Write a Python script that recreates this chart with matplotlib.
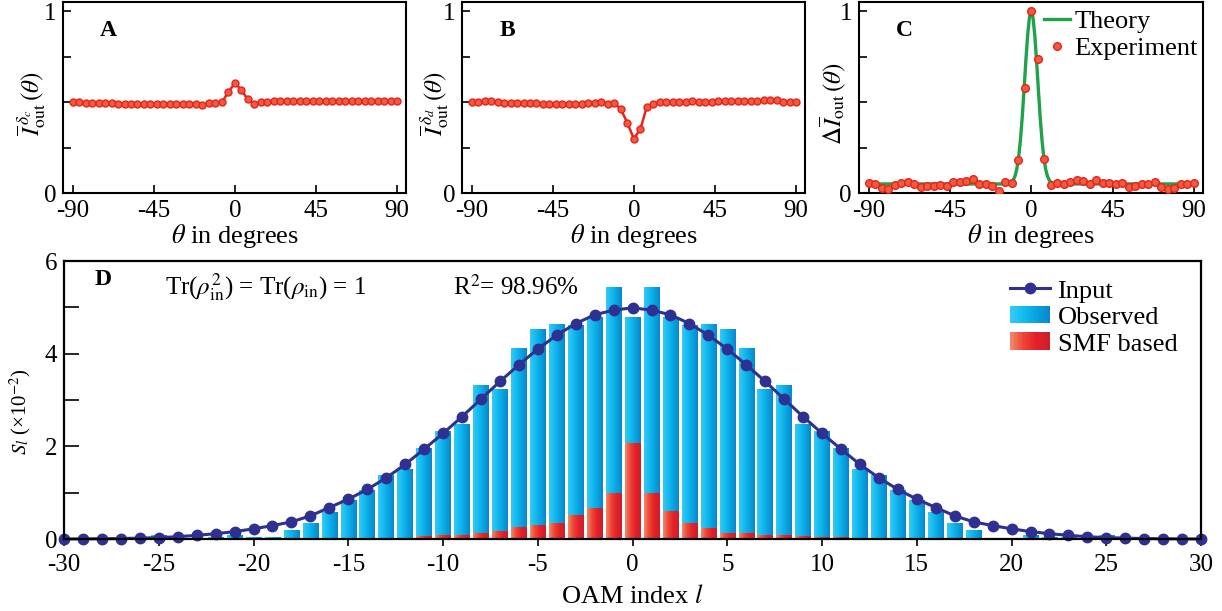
import numpy as np
import matplotlib
matplotlib.use("Agg")
import matplotlib.pyplot as plt
from matplotlib.colors import LinearSegmentedColormap
from matplotlib.patches import Rectangle
from matplotlib.lines import Line2D
from matplotlib.legend_handler import HandlerBase

plt.rcParams['font.family'] = ['Liberation Serif', 'DejaVu Serif']
plt.rcParams['mathtext.fontset'] = 'stix'
plt.rcParams['axes.unicode_minus'] = False

# --- data ---
theta = np.arange(-90, 90.1, 3.6)   # 51 angles

I_dc = [0.502, 0.500, 0.495, 0.493, 0.493, 0.495, 0.493, 0.491, 0.489, 0.489,
        0.491, 0.491, 0.489, 0.491, 0.491, 0.491, 0.491, 0.491, 0.489, 0.489,
        0.485, 0.493, 0.496, 0.500, 0.553, 0.606, 0.566, 0.515, 0.489, 0.500,
        0.502, 0.504, 0.504, 0.505, 0.505, 0.505, 0.505, 0.504, 0.504, 0.505,
        0.505, 0.505, 0.505, 0.505, 0.507, 0.505, 0.504, 0.504, 0.504, 0.504, 0.504]

I_dd = [0.501, 0.501, 0.505, 0.505, 0.501, 0.497, 0.497, 0.497, 0.497, 0.495,
        0.495, 0.492, 0.492, 0.492, 0.490, 0.488, 0.490, 0.492, 0.495, 0.495,
        0.501, 0.488, 0.495, 0.461, 0.385, 0.299, 0.350, 0.473, 0.492, 0.499,
        0.503, 0.503, 0.503, 0.501, 0.506, 0.503, 0.503, 0.503, 0.505, 0.505,
        0.506, 0.506, 0.506, 0.506, 0.506, 0.510, 0.514, 0.510, 0.503, 0.501, 0.501]

dI_exp = [0.055, 0.048, 0.030, 0.024, 0.046, 0.055, 0.059, 0.051, 0.033, 0.040,
          0.040, 0.044, 0.040, 0.062, 0.060, 0.064, 0.075, 0.051, 0.048, 0.040,
          0.011, 0.060, 0.057, 0.180, 0.580, 1.000, 0.734, 0.187, 0.046, 0.055,
          0.051, 0.060, 0.070, 0.066, 0.051, 0.070, 0.055, 0.053, 0.048, 0.055,
          0.033, 0.040, 0.048, 0.051, 0.060, 0.033, 0.022, 0.028, 0.048, 0.048, 0.055]

theta_th = [-90, -14, -12, -11, -10, -9, -8, -7, -6, -5, -4, -3, -2, -1, 0,
            1, 2, 3, 4, 5, 6, 7, 8, 9, 10, 11, 12, 14, 90]
dI_th = [0.050, 0.050, 0.054, 0.059, 0.070, 0.092, 0.130, 0.193, 0.287, 0.412, 0.562,
         0.722, 0.864, 0.964, 1.000, 0.964, 0.864, 0.722, 0.562, 0.412, 0.287,
         0.193, 0.130, 0.092, 0.070, 0.059, 0.054, 0.050, 0.050]

oam = np.arange(-30, 31)
s_input = [0.001, 0.003, 0.006, 0.01, 0.02, 0.03, 0.05, 0.08, 0.115, 0.16,
           0.22, 0.29, 0.37, 0.50, 0.68, 0.86, 1.07, 1.32, 1.61, 1.94,
           2.28, 2.64, 3.02, 3.40, 3.76, 4.10, 4.40, 4.65, 4.84, 4.94,
           4.99,
           4.94, 4.84, 4.65, 4.40, 4.10, 3.76, 3.40, 3.02, 2.64, 2.28,
           1.94, 1.61, 1.32, 1.07, 0.86, 0.68, 0.50, 0.37, 0.29, 0.22,
           0.16, 0.115, 0.08, 0.05, 0.03, 0.02, 0.01, 0.006, 0.003, 0.001]
s_observed = [0.0, 0.0, 0.005, 0.005, 0.01, 0.07, 0.02, 0.02, 0.035, 0.07,
              0.03, 0.03, 0.19, 0.345, 0.58, 0.84, 1.04, 1.38, 1.51, 1.96,
              2.31, 2.48, 3.32, 3.22, 4.12, 4.53, 4.62, 4.60, 4.77, 5.42,
              4.77,
              5.42, 4.77, 4.60, 4.62, 4.53, 4.12, 3.22, 3.32, 2.48, 2.31,
              1.96, 1.51, 1.38, 1.04, 0.84, 0.58, 0.345, 0.19, 0.01, 0.01,
              0.07, 0.035, 0.035, 0.02, 0.07, 0.01, 0.005, 0.005, 0.0, 0.0]
s_smf = [0.0, 0.0, 0.0, 0.0, 0.0, 0.0, 0.0, 0.0, 0.003, 0.003,
         0.005, 0.005, 0.008, 0.008, 0.01, 0.01, 0.012, 0.015, 0.02, 0.045,
         0.07, 0.086, 0.115, 0.16, 0.245, 0.30, 0.345, 0.50, 0.65, 0.99,
         2.06,
         0.99, 0.59, 0.33, 0.22, 0.115, 0.115, 0.086, 0.065, 0.045, 0.03,
         0.03, 0.02, 0.015, 0.01, 0.008, 0.005, 0.005, 0.003, 0.0, 0.0,
         0.0, 0.0, 0.0, 0.0, 0.0, 0.0, 0.0, 0.0, 0.0, 0.0]

RED = '#e5231f'
RED_FACE = '#f25a3c'
GREEN = '#1fa24a'
NAVY = '#2e3192'
blue_cmap = LinearSegmentedColormap.from_list('obs', ['#34cbf5', '#14bbef', '#08a3e0', '#0887cc'])
red_cmap = LinearSegmentedColormap.from_list('smf', ['#f2886a', '#ec4434', '#e3202a', '#cc1f2b'])

FS = 18

fig = plt.figure(figsize=(12.22, 6.11), dpi=100)
axA = fig.add_axes([0.0516, 0.6841, 0.2807, 0.3126])
axB = fig.add_axes([0.3781, 0.6841, 0.2807, 0.3126])
axC = fig.add_axes([0.7029, 0.6841, 0.2815, 0.3126])
axD = fig.add_axes([0.0524, 0.1178, 0.9305, 0.4550])


def style_small(ax, letter, ylabel, label_x):
    ax.set_xlim(-95.3, 95.0)
    ax.set_ylim(0, 1.05)
    ax.set_xticks([-90, -45, 0, 45, 90])
    ax.set_yticks([0, 0.25, 0.5, 0.75, 1])
    ax.set_yticklabels(['0', '', '', '', '1'])
    ax.tick_params(direction='in', length=6, width=1.2, labelsize=FS, pad=5)
    for sp in ax.spines.values():
        sp.set_linewidth(1.5)
    ax.set_xlabel(r'$\theta$ in degrees', fontsize=FS + 1, labelpad=0)
    ax.set_ylabel(ylabel, fontsize=18)
    ax.yaxis.set_label_coords(label_x, 0.47)
    ax.text(0.132, 0.853, letter, transform=ax.transAxes, fontsize=17,
            fontweight='bold', ha='center', va='center')


# Panel A
axA.plot(theta, I_dc, '-o', color=RED, lw=1.8, ms=5, mfc=RED_FACE, mec=RED, mew=1)
style_small(axA, 'A', r'$\overline{I}_{\rm out}^{\,\delta_c}\,(\theta)$', -0.045)

# Panel B
axB.plot(theta, I_dd, '-o', color=RED, lw=1.8, ms=5, mfc=RED_FACE, mec=RED, mew=1)
style_small(axB, 'B', r'$\overline{I}_{\rm out}^{\,\delta_d}\,(\theta)$', -0.033)

# Panel C
axC.plot(theta_th, dI_th, '-', color=GREEN, lw=2.4, label='Theory', zorder=2)
axC.plot(theta, dI_exp, 'o', ms=5.5, mfc=RED_FACE, mec=RED, mew=1,
         label='Experiment', zorder=3)
style_small(axC, 'C', r'$\Delta\overline{I}_{\rm out}\,(\theta)$', -0.033)
axC.legend(loc='upper left', bbox_to_anchor=(0.53, 0.975), frameon=False,
           fontsize=FS + 1, handlelength=1.0, handletextpad=0.15, labelspacing=0.15,
           borderpad=0.1, borderaxespad=0)


# Panel D: gradient filled bars
def gradient_bars(ax, x, h, cmap, z):
    bars = ax.bar(x, h, width=0.82, color=cmap(0.6), edgecolor='none', zorder=z)
    grad = np.linspace(0, 1, 64).reshape(1, -1)
    for p in bars:
        if p.get_height() <= 0:
            continue
        x0 = p.get_x()
        ax.imshow(grad, cmap=cmap, extent=[x0, x0 + p.get_width(), 0, p.get_height()],
                  aspect='auto', interpolation='bilinear', zorder=z)
    return bars


gradient_bars(axD, oam, s_observed, blue_cmap, 2)
gradient_bars(axD, oam, s_smf, red_cmap, 3)
axD.plot(oam, s_input, '-o', color=NAVY, lw=2.2, ms=7.5, zorder=4, clip_on=False)

axD.set_xlim(-30, 30)
axD.set_ylim(0, 6)
axD.set_xticks(np.arange(-30, 31, 5))
axD.set_yticks(np.arange(0, 7, 1))
axD.set_yticklabels(['0', '', '2', '', '4', '', '6'])
axD.tick_params(axis='x', direction='out', length=5, width=1.2, labelsize=FS, pad=6)
axD.tick_params(axis='y', direction='in', length=11, width=1.2, labelsize=FS, pad=5)
for sp in axD.spines.values():
    sp.set_linewidth(1.6)
    sp.set_zorder(5)
axD.set_xlabel(r'OAM index $l$', fontsize=19, labelpad=6)
axD.set_ylabel(r'$S_l$ (×10$^{-2}$)', fontsize=15)
axD.yaxis.set_label_coords(-0.027, 0.457)

axD.text(0.034, 0.932, 'D', transform=axD.transAxes, fontsize=17,
         fontweight='bold', ha='center', va='center')
axD.text(0.089, 0.906, r'Tr($\rho^{2}_{\rm in}$) = Tr($\rho_{\rm in}$) = 1',
         transform=axD.transAxes, fontsize=FS, ha='left', va='center')
axD.text(0.342, 0.906, r'R$^{2}$= 98.96%', transform=axD.transAxes,
         fontsize=FS, ha='left', va='center')


class GradientHandler(HandlerBase):
    def __init__(self, cmap):
        super().__init__()
        self.cmap = cmap

    def create_artists(self, legend, orig_handle, xdescent, ydescent,
                       width, height, fontsize, trans):
        n = 30
        arts = []
        for i in range(n):
            r = Rectangle((-xdescent + i * width / n, -ydescent + 0.05 * height),
                          width / n * 1.05, height * 0.95,
                          facecolor=self.cmap(i / (n - 1)), edgecolor='none',
                          transform=trans)
            arts.append(r)
        return arts


h_in = Line2D([], [], color=NAVY, lw=2.2, marker='o', ms=7.5)
h_obs = Rectangle((0, 0), 1, 1)
h_smf = Rectangle((0, 0), 1, 1)
axD.legend([h_in, h_obs, h_smf], ['Input', 'Observed', 'SMF based'],
           handler_map={h_obs: GradientHandler(blue_cmap), h_smf: GradientHandler(red_cmap)},
           loc='upper left', bbox_to_anchor=(0.832, 0.935), frameon=False,
           fontsize=19, handlelength=1.5, handletextpad=0.3, labelspacing=0.12,
           borderpad=0, borderaxespad=0)

fig.savefig('out.png', dpi=100)
